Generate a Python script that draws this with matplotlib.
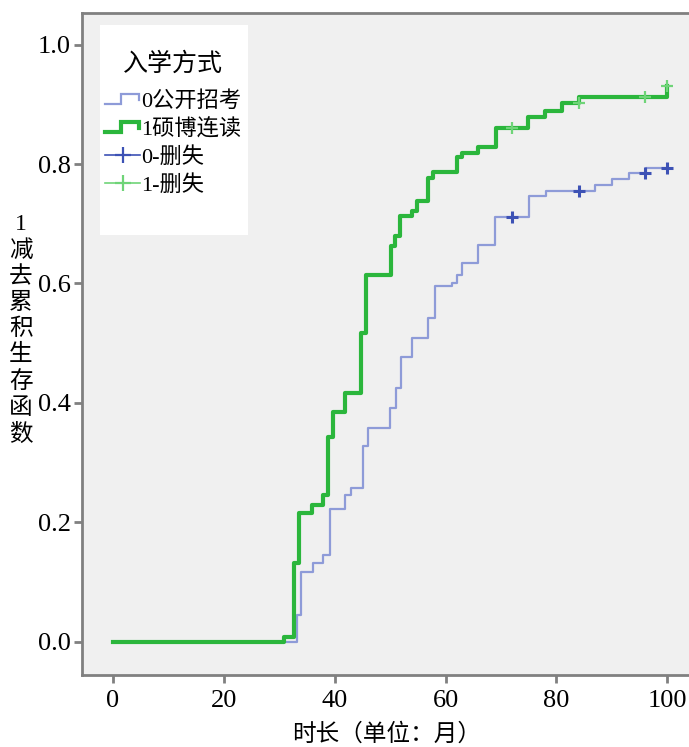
import matplotlib
matplotlib.use("Agg")
import matplotlib.pyplot as plt
from matplotlib.legend_handler import HandlerBase
from matplotlib.lines import Line2D
from matplotlib.patches import Rectangle
import numpy as np

plt.rcParams["font.family"] = ["Liberation Serif", "Noto Sans CJK SC"]

# step points (time in months, 1 - survival)
open_times = [0, 33.2, 33.9, 36.0, 37.9, 39.1, 41.8, 43.0, 45.1, 46.0, 49.9, 51.1, 52.0,
              53.9, 56.9, 58.1, 61.1, 62.0, 62.9, 65.9, 68.9, 75.0, 78.1, 87.0, 90.1,
              93.1, 96.1, 100]
open_vals = [0.0, 0.045, 0.117, 0.131, 0.145, 0.222, 0.246, 0.257, 0.327, 0.357, 0.391,
             0.424, 0.476, 0.508, 0.542, 0.595, 0.600, 0.614, 0.634, 0.664, 0.712, 0.747,
             0.754, 0.765, 0.775, 0.785, 0.794, 0.794]
open_censor = [72, 84, 96, 100]

phd_times = [0, 30.9, 32.7, 33.6, 35.9, 37.9, 38.8, 39.7, 41.8, 44.8, 45.7, 50.1, 50.8,
             51.7, 53.9, 54.8, 56.9, 57.8, 62.0, 62.9, 65.9, 69.1, 74.9, 77.9, 81.0,
             84.1, 100]
phd_vals = [0.0, 0.008, 0.132, 0.215, 0.229, 0.246, 0.343, 0.385, 0.417, 0.517, 0.614,
            0.663, 0.680, 0.713, 0.721, 0.738, 0.777, 0.786, 0.812, 0.819, 0.828, 0.860,
            0.878, 0.888, 0.903, 0.913, 0.930]
phd_censor = [72, 84, 96, 100]

labels = ["0公开招考", "1硕博连读", "0-删失", "1-删失"]

BLUE = "#8e9bd8"
BLUE_DARK = "#3d52b5"
GREEN = "#2bb63c"
GREEN_LIGHT = "#6fd478"
GREY = "#808080"


def value_at(times, vals, t):
    # value of the step curve just at t (post steps)
    idx = np.searchsorted(times, t, side="right") - 1
    return vals[idx]


class StepHandler(HandlerBase):
    def create_artists(self, legend, orig_handle, xdescent, ydescent, width, height,
                       fontsize, trans):
        x0 = -xdescent
        x1 = x0 + width
        ym = height / 2 - ydescent
        xs = [x0, x0 + 0.45 * width, x0 + 0.45 * width, x1 - 0.05 * width, x1 - 0.05 * width]
        ys = [ym - 0.3 * height, ym - 0.3 * height, ym + 0.35 * height, ym + 0.35 * height,
              ym - 0.05 * height]
        ln = Line2D(xs, ys, color=orig_handle.get_color(), lw=orig_handle.get_linewidth(),
                    solid_joinstyle="miter")
        ln.set_transform(trans)
        return [ln]


fig = plt.figure(figsize=(6.89, 7.47), dpi=100)
ax = fig.add_axes([0.119, 0.0964, 0.885, 0.8862])
ax.set_facecolor("#f0f0f0")

ax.step(open_times, open_vals, where="post", color=BLUE, lw=1.6, zorder=3)
ax.step(phd_times, phd_vals, where="post", color=GREEN, lw=3.0, zorder=4)

oc_y = [value_at(open_times, open_vals, t) for t in open_censor]
pc_y = [value_at(phd_times, phd_vals, t) for t in phd_censor]
ax.plot(open_censor, oc_y, ls="none", marker="+", ms=9, mew=2.2,
        color=BLUE_DARK, zorder=5)
ax.plot(phd_censor, pc_y, ls="none", marker="+", ms=9, mew=1.6,
        color=GREEN_LIGHT, zorder=5)

ax.set_xlim(-5.6, 104.4)
ax.set_ylim(-0.056, 1.053)
ax.set_xticks([0, 20, 40, 60, 80, 100])
ax.set_yticks([0.0, 0.2, 0.4, 0.6, 0.8, 1.0])
ax.set_yticklabels(["0.0", "0.2", "0.4", "0.6", "0.8", "1.0"])

for side in ["left", "bottom", "top"]:
    ax.spines[side].set_color(GREY)
    ax.spines[side].set_linewidth(2)
ax.spines["right"].set_visible(False)
ax.tick_params(direction="out", length=6, width=2, color=GREY, labelsize=19,
               labelcolor="black")
ax.tick_params(axis="x", pad=5)
ax.tick_params(axis="y", pad=2)

ax.set_xlabel("时长（单位：月）", fontsize=17, labelpad=8)
ax.set_ylabel("1\n减\n去\n累\n积\n生\n存\n函\n数", fontsize=17, rotation=0,
              linespacing=1.3, va="center", ha="center")
ax.yaxis.set_label_coords(-0.1, 0.521)

ax.add_patch(Rectangle((0.0297, 0.665), 0.242, 0.317, transform=ax.transAxes,
                       facecolor="white", edgecolor="none", zorder=1))

open_leg = Line2D([], [], color=BLUE, lw=1.6)
phd_leg = Line2D([], [], color=GREEN, lw=3.0)
oc_leg = Line2D([], [], color=BLUE_DARK, lw=1.2, marker="+", ms=12, mew=1.6)
pc_leg = Line2D([], [], color=GREEN_LIGHT, lw=1.2, marker="+", ms=12, mew=1.6)
leg = ax.legend([open_leg, phd_leg, oc_leg, pc_leg], labels, title="入学方式",
                loc="upper left", bbox_to_anchor=(0.012, 0.952), frameon=False,
                fontsize=16, title_fontsize=18, handlelength=1.6, handletextpad=0.05,
                labelspacing=0.32, borderpad=0.2,
                handler_map={open_leg: StepHandler(), phd_leg: StepHandler()})
leg.get_title().set_position((0, 8))

fig.savefig("out.png", dpi=100)
